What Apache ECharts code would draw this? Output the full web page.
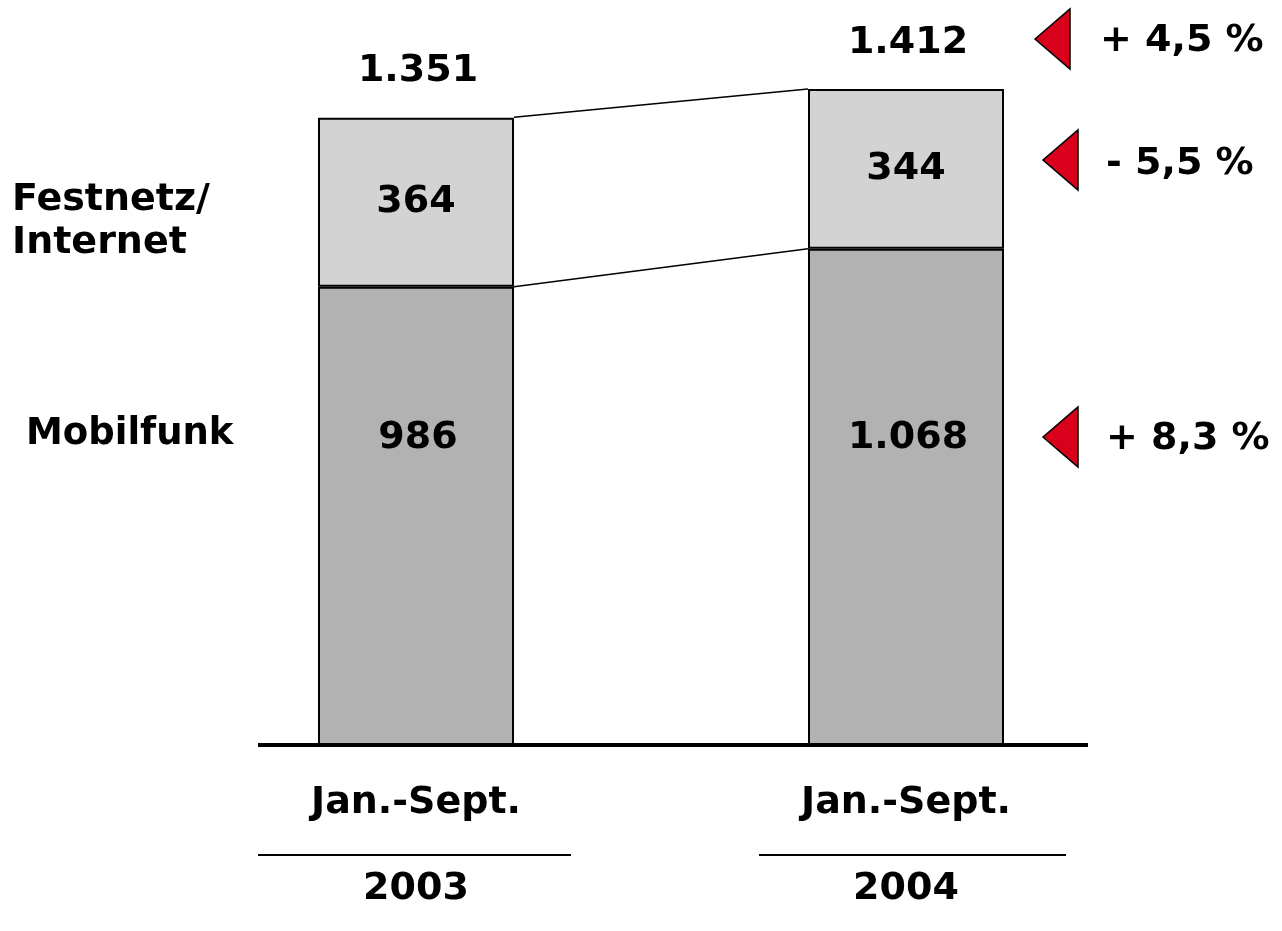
<!DOCTYPE html>
<html>
<head>
<meta charset="UTF-8">
<title></title>
<style>
  * { margin: 0; padding: 0; }
  html, body { width: 100%; height: 100%; background: #fff; overflow: hidden; }
  #chart { width: 1282px; height: 931px; }
</style>
</head>
<body>
<div id="chart"></div>
<script src="https://cdn.jsdelivr.net/npm/echarts@6/dist/echarts.min.js"></script>
<script>
// data
var periods = ['Jan.-Sept.', 'Jan.-Sept.'];
var years = ['2003', '2004'];
var mobilfunk = [986, 1068];
var festnetz = [364, 344];
var totals = [1351, 1412];
var totalLabels = ['1.351', '1.412'];
var mobilLabels = ['986', '1.068'];
var festLabels = ['364', '344'];
var growth = ['+ 4,5 %', '- 5,5 %', '+ 8,3 %'];
var mobilLabelLevel = 665;

var FONT = '"DejaVu Sans", Verdana, sans-serif';
var FS = 38;
var barW = 196;
var chart = echarts.init(document.getElementById('chart'));

var txt = { fontFamily: FONT, fontWeight: 'bold', fontSize: FS, color: '#000' };

var option = {
  backgroundColor: '#fff',
  animation: false,
  grid: { left: 171, right: 131, top: 48, bottom: 186 },
  xAxis: {
    type: 'category',
    data: years,
    axisLine: { show: false },
    axisTick: { show: false },
    axisLabel: {
      margin: 15,
      formatter: function (v, i) {
        return '{a|' + periods[i] + '}\n{a|' + v + '}';
      },
      rich: { a: Object.assign({ lineHeight: 86 }, txt) }
    }
  },
  yAxis: {
    type: 'value', min: 0, max: 1500, show: false,
    splitLine: { show: false }
  },
  series: [{
    name: 'Mobilfunk',
    type: 'bar',
    stack: 'total',
    barWidth: barW,
    data: mobilfunk,
    itemStyle: { color: '#b2b2b2', borderColor: '#000', borderWidth: 2 }
  }, {
    name: 'Festnetz/Internet',
    type: 'bar',
    stack: 'total',
    barWidth: barW,
    data: festnetz,
    itemStyle: { color: '#d3d3d3', borderColor: '#000', borderWidth: 2 },
    label: Object.assign({
      show: true, position: 'inside',
      formatter: function (p) { return festLabels[p.dataIndex]; }
    }, txt)
  }, {
    // totals, mobil labels and connector lines
    type: 'custom',
    z: 10,
    clip: false,
    data: [[0, 0], [1, 0]],
    encode: { x: 0, y: 1 },
    renderItem: function (params, api) {
      var i = params.dataIndex;
      var children = [];
      var pTot = api.coord([i, totals[i]]);
      var pMob = api.coord([i, mobilLabelLevel]);
      children.push({
        type: 'text', z2: 100,
        style: { text: totalLabels[i], x: pTot[0] + 2, y: pTot[1] - 46,
          align: 'center', verticalAlign: 'middle',
          font: 'bold ' + FS + 'px ' + FONT, fill: '#000' }
      });
      children.push({
        type: 'text', z2: 100,
        style: { text: mobilLabels[i], x: pMob[0] + 2, y: pMob[1] + 2,
          align: 'center', verticalAlign: 'middle',
          font: 'bold ' + FS + 'px ' + FONT, fill: '#000' }
      });
      if (i === 0) {
        var levels = [[mobilfunk[0], mobilfunk[1]], [totals[0], totals[1]]];
        levels.forEach(function (lv) {
          var a = api.coord([0, lv[0]]);
          var b = api.coord([1, lv[1]]);
          children.push({
            type: 'line',
            shape: { x1: a[0] + barW / 2, y1: a[1], x2: b[0] - barW / 2, y2: b[1] },
            style: { stroke: '#000', lineWidth: 1.5 }
          });
        });
      }
      return { type: 'group', children: children };
    }
  }]
};
chart.setOption(option);

// decorations: baseline, separators, side labels, growth arrows
var c0 = chart.convertToPixel({ xAxisIndex: 0 }, 0);
var c1 = chart.convertToPixel({ xAxisIndex: 0 }, 1);
var base = chart.convertToPixel({ yAxisIndex: 0 }, 0);

var tri = [[1035, 39], [1070, 9], [1070, 69]];
var triPos = [[0, 0], [8, 121], [8, 398]];
var growthPos = [[1100, 41], [1106, 164], [1106, 439]];

var graphic = [
  { type: 'line', shape: { x1: c0 - 158, y1: base, x2: c1 + 182, y2: base },
    style: { stroke: '#000', lineWidth: 4 } },
  { type: 'line', shape: { x1: c0 - 158, y1: 855, x2: c0 + 155, y2: 855 },
    style: { stroke: '#000', lineWidth: 2 } },
  { type: 'line', shape: { x1: c1 - 147, y1: 855, x2: c1 + 160, y2: 855 },
    style: { stroke: '#000', lineWidth: 2 } },
  { type: 'text', x: 12, y: 222,
    style: { text: 'Festnetz/\nInternet', font: 'bold 38px ' + FONT, fill: '#000',
      verticalAlign: 'middle', lineHeight: 43 } },
  { type: 'text', x: 26, y: 434,
    style: { text: 'Mobilfunk', font: 'bold 37px ' + FONT, fill: '#000',
      verticalAlign: 'middle' } }
];
growth.forEach(function (g, k) {
  graphic.push({
    type: 'polygon',
    shape: { points: tri.map(function (p) { return [p[0] + triPos[k][0], p[1] + triPos[k][1]]; }) },
    style: { fill: '#d9001b', stroke: '#000', lineWidth: 1.5 }
  });
  graphic.push({
    type: 'text', x: growthPos[k][0], y: growthPos[k][1],
    style: { text: g, font: 'bold 38px ' + FONT, fill: '#000', verticalAlign: 'middle' }
  });
});
chart.setOption({ graphic: graphic });
</script>
</body>
</html>
